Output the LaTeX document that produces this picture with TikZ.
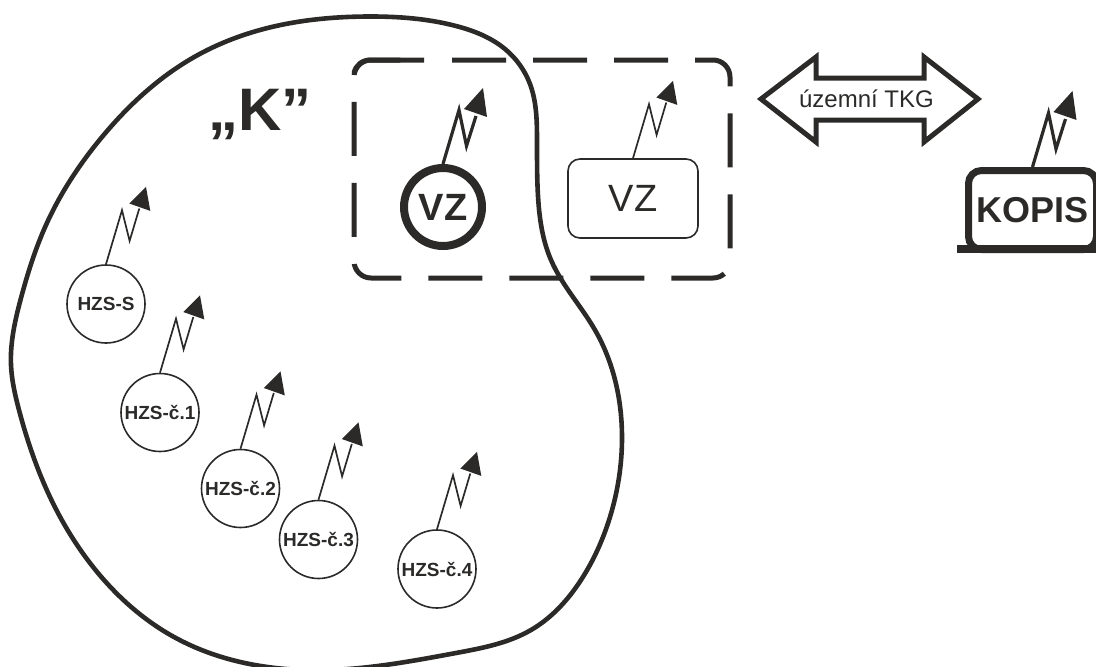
\documentclass[tikz,border=0pt]{standalone}
\usepackage{fontspec}
\usetikzlibrary{hobby}
\setmainfont{Liberation Sans}
\definecolor{ink}{HTML}{2B2A29}
\newcommand{\fs}[1]{\fontsize{#1}{#1}\selectfont}
\newcommand{\antennathin}[1]{%
  \draw[antline] (#1.north) -- ++(16,-54) -- ++(7.6,30.7) -- ++(9.7,-32.4);
  \fill[ink] (#1.north) ++(23.3,-60.7) -- ++(16.7,-16.6) -- ++(4.3,24) -- cycle;
}
\newcommand{\antennathick}[1]{%
  \draw[antline,line width=3.2pt] (#1.north) -- ++(16,-54) -- ++(7.5,36) -- ++(9.5,-30);
  \fill[ink] (#1.north) ++(21,-55) -- ++(19,-21) -- ++(4,29) -- cycle;
}
\tikzset{
  x=1pt,y=-1pt,
  every node/.style={text=ink,inner sep=0pt},
  antline/.style={draw=ink,line width=1.7pt,miter limit=10},
  hzs/.style={circle,draw=ink,fill=white,line width=1.6pt,minimum size=78pt,font=\bfseries\fs{19}},
  heavy/.style={draw=ink,line width=5pt},
}
\begin{document}
\begin{tikzpicture}[use Hobby shortcut]
\useasboundingbox (0,0) rectangle (1096,667);
% region
\draw[heavy,line width=4.6pt,closed=true]
 (11,365) .. (21,298) .. (46,225) .. (102,137) .. (196,56) .. (260,30) .. (368,16.5)
 .. (456,26) .. (505,49) .. (530,84) .. (537,140) .. (538,196) .. (551,260) .. (595,330)
 .. (622,437) .. (610,517) .. (581,580) .. (531,630) .. (456,653) .. (330,670)
 .. (174,637) .. (104,580) .. (50,497) .. (19,410);
% dashed box
\draw[heavy,rounded corners=17pt,dash pattern=on 54pt off 27pt]
  (452,60) -- (730,60) -- (730,278) -- (354,278) -- (354,60) -- (424,60);
\draw[heavy] (354,73) .. controls (356,65) and (362,60) .. (371,60) -- (424,60);
% label K
\node[anchor=base,font=\bfseries\fs{60}] (klabel) at (260,130) {„K”};
% nodes
\node[hzs] (hs) at (106,304) {HZS-S};
\node[hzs] (h1) at (160,412.5) {HZS-č.1};
\node[hzs] (h2) at (240.5,488.5) {HZS-č.2};
\node[hzs] (h3) at (318.5,539.5) {HZS-č.3};
\node[hzs] (h4) at (437,569) {HZS-č.4};
\node[circle,draw=ink,line width=8pt,minimum size=78pt,font=\bfseries\fs{38}] (vzk) at (443,207) {VZ};
\node[rectangle,rounded corners=12pt,draw=ink,line width=1.6pt,minimum width=130pt,minimum height=79pt,font=\fs{38}] (vzr) at (633,198.5) {VZ};
% KOPIS
\node[rectangle,rounded corners=13pt,draw=ink,line width=7pt,minimum width=128pt,minimum height=79pt,font=\bfseries\fs{36}] (kopis) at (1032.5,210) {KOPIS};
\coordinate (kbl) at (957,249);
\coordinate (kbr) at (1096,249);
\draw[draw=ink,line width=8pt] (kbl) -- (kbr);
% antennas
\antennathin{hs}
\antennathin{h1}
\antennathin{h2}
\antennathin{h3}
\antennathin{h4}
\antennathin{vzr}
\antennathick{vzk}
\antennathick{kopis}
% double arrow
\draw[heavy,miter limit=10] (761,99) -- (816,57) -- (816,78) -- (924,78) -- (924,57) -- (978,99)
  -- (924,142) -- (924,120) -- (816,120) -- (816,142) -- cycle;
\node[font=\fs{24}] (tkg) at (866.5,99) {územní TKG};
\end{tikzpicture}
\end{document}
